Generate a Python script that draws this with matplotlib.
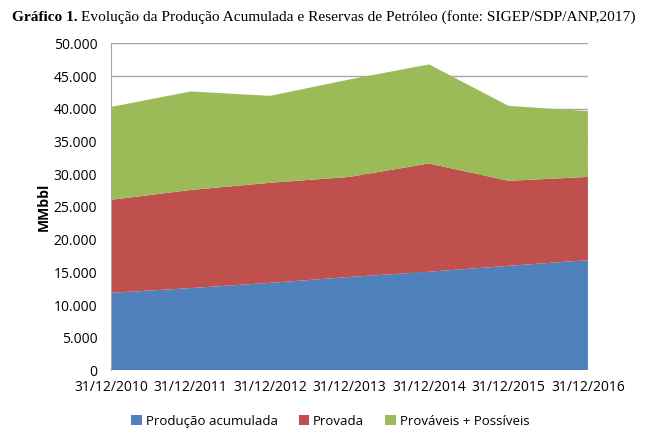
import numpy as np
import matplotlib
matplotlib.use('Agg')
import matplotlib.pyplot as plt
from matplotlib.patches import Patch
from matplotlib.ticker import FuncFormatter

# data (MMbbl)
datas = ['31/12/2010', '31/12/2011', '31/12/2012', '31/12/2013',
         '31/12/2014', '31/12/2015', '31/12/2016']
producao = [11870, 12600, 13400, 14300, 15100, 16000, 16870]
provada = [14230, 15000, 15300, 15300, 16550, 13000, 12730]
provaveis_possiveis = [14200, 15060, 13290, 14900, 15150, 11460, 10050]

cores = ['#4f81bd', '#c0504d', '#9bbb59']
nomes = ['Produção acumulada', 'Provada', 'Prováveis + Possíveis']

plt.rcParams['font.family'] = ['Open Sans', 'DejaVu Sans']

fig = plt.figure(figsize=(6.54, 4.48), dpi=100)
ax = fig.add_axes([0.170, 0.173, 0.729, 0.730])

x = np.arange(len(datas))
ax.stackplot(x, producao, provada, provaveis_possiveis, colors=cores,
             linewidth=0, zorder=2)

ax.set_xlim(0, len(datas) - 1)
ax.set_ylim(0, 50000)
ax.set_yticks(range(0, 50001, 5000))
ax.yaxis.set_major_formatter(FuncFormatter(lambda v, p: f'{int(v):,}'.replace(',', '.')))
ax.set_xticks(x)
ax.set_xticklabels(datas)
ax.grid(axis='y', color='#a6a6a6', linewidth=1, zorder=1)
ax.set_axisbelow(True)
ax.tick_params(axis='y', length=0, pad=10, labelsize=10)
ax.tick_params(axis='x', length=0, pad=7, labelsize=10)
for s in ['top', 'right', 'bottom']:
    ax.spines[s].set_visible(False)
ax.spines['left'].set_color('#a6a6a6')
ax.set_ylabel('MMbbl', fontsize=10, fontweight='bold', labelpad=2)

# legend
handles = [Patch(facecolor=c, edgecolor='none') for c in cores]
fig.legend(handles, nomes, loc='center', bbox_to_anchor=(0.505, 0.06), ncol=3,
           frameon=False, fontsize=9.5, handlelength=0.8, handleheight=0.8,
           handletextpad=0.3, columnspacing=1.6)

# title: bold part + normal part
t1 = fig.text(0.018, 0.962, 'Gráfico 1.', fontsize=11.1, fontweight='bold',
              family='Liberation Serif', va='center')
fig.canvas.draw()
bb = t1.get_window_extent()
x2 = (bb.x1 + 4) / fig.bbox.width
fig.text(x2, 0.962, 'Evolução da Produção Acumulada e Reservas de Petróleo (fonte: SIGEP/SDP/ANP,2017)',
         fontsize=11.1, family='Liberation Serif', va='center')

fig.savefig('out.png', dpi=100)
